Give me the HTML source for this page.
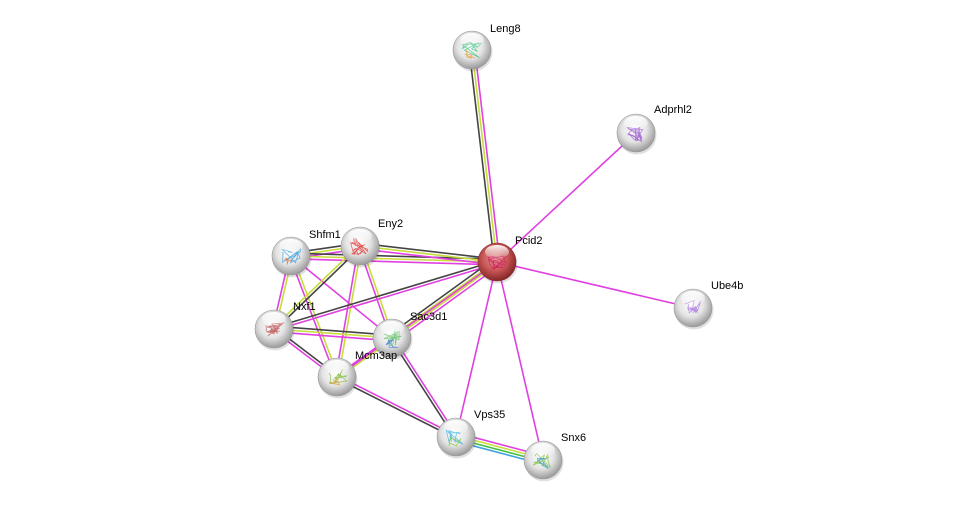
<!DOCTYPE html>
<html><head><meta charset="utf-8"><style>
html,body{margin:0;padding:0;background:#fff;width:975px;height:505px;overflow:hidden}
svg{display:block}
text{font-family:"Liberation Sans",sans-serif;font-size:11px;fill:#000}
</style></head><body>
<svg id="s" width="975" height="505" viewBox="0 0 975 505">
<defs>
<radialGradient id="g" cx="45%" cy="40%" r="60%">
<stop offset="0" stop-color="#ffffff"/><stop offset="0.55" stop-color="#e4e4e4"/><stop offset="1" stop-color="#9a9a9a"/>
</radialGradient>
<radialGradient id="r" cx="45%" cy="40%" r="60%">
<stop offset="0" stop-color="#e49a9a"/><stop offset="0.55" stop-color="#c85656"/><stop offset="1" stop-color="#842626"/>
</radialGradient>
<linearGradient id="hl" x1="0" y1="0" x2="0" y2="1">
<stop offset="0" stop-color="#fff" stop-opacity="0.95"/><stop offset="1" stop-color="#fff" stop-opacity="0.05"/>
</linearGradient>
</defs>
<g id="edges"></g><g id="nodes"></g>
</svg>
<script>
var N={Leng8:[472,50],Adprhl2:[636,133],Pcid2:[497,262],Ube4b:[693,308],Shfm1:[291,256],Eny2:[360,246],Nxf1:[274,329],Sac3d1:[392,338],Mcm3ap:[337,377],Vps35:[456,437],Snx6:[543,460]};
var K='#444',Y='#c8dc3c',P='#e040e0',G='#40c040',B='#40a0e0';
var E=[["Shfm1","Eny2",[K,Y,P]],["Shfm1","Pcid2",[K,Y,P]],["Eny2","Pcid2",[K,Y,P]],["Shfm1","Nxf1",[Y,P]],["Shfm1","Mcm3ap",[Y,P]],["Shfm1","Sac3d1",[P]],["Eny2","Nxf1",[K,Y]],["Eny2","Sac3d1",[Y,P]],["Eny2","Mcm3ap",[Y,P]],["Nxf1","Pcid2",[K,P]],["Nxf1","Sac3d1",[K,Y,P]],["Nxf1","Mcm3ap",[K,P]],["Sac3d1","Pcid2",[K,Y,Y,P]],["Sac3d1","Mcm3ap",[Y,P]],["Mcm3ap","Pcid2",[P]],["Sac3d1","Vps35",[P,K]],["Mcm3ap","Vps35",[P,K]],["Leng8","Pcid2",[P,Y,K]],["Vps35","Snx6",[P,Y,G,B]],["Pcid2","Adprhl2",[P]],["Pcid2","Ube4b",[P]],["Pcid2","Vps35",[P]],["Pcid2","Snx6",[P]]];
var ns="http://www.w3.org/2000/svg",eg=document.getElementById('edges'),ng=document.getElementById('nodes');
function el(t,a,p){var e=document.createElementNS(ns,t);for(var k in a)e.setAttribute(k,a[k]);p.appendChild(e);return e;}
E.forEach(function(e){var a=N[e[0]],b=N[e[1]],dx=b[0]-a[0],dy=b[1]-a[1],L=Math.hypot(dx,dy),nx=-dy/L,ny=dx/L,c=e[2],n=c.length;
c.forEach(function(col,i){var o=(i-(n-1)/2)*2.8;el('line',{x1:a[0]+nx*o,y1:a[1]+ny*o,x2:b[0]+nx*o,y2:b[1]+ny*o,stroke:col,'stroke-width':1.6},eg);});});
var lab={Leng8:[490,32],Adprhl2:[654,113],Pcid2:[515,244],Ube4b:[711,289],Shfm1:[309,238],Eny2:[378,227],Nxf1:[293,310],Sac3d1:[410,320],Mcm3ap:[355,359],Vps35:[474,418],Snx6:[561,441]};
var sc={Leng8:['#40c080','#e0a040'],Adprhl2:['#a060d0','#a060d0'],Pcid2:['#d02060','#d02060'],Ube4b:['#b080e0','#b080e0'],Shfm1:['#40a0e0','#e08040'],Eny2:['#e04040','#e04040'],Nxf1:['#c06060','#c06060'],Sac3d1:['#60c060','#4080e0'],Mcm3ap:['#80c040','#e0a040'],Vps35:['#40b0e0','#80d040'],Snx6:['#80c040','#40a0e0']};
function rnd(s){return function(){s=(s*9301+49297)%233280;return s/233280;};}
var seed=7;
for(var k in N){var p=N[k],red=k=='Pcid2';
el('circle',{cx:p[0]+1,cy:p[1]+2,r:19.5,fill:'#000',opacity:0.12},ng);
el('circle',{cx:p[0],cy:p[1],r:19,fill:red?'url(#r)':'url(#g)',stroke:red?'#8a3030':'#999','stroke-width':0.6},ng);
var R=rnd(seed+=13),d='M'+(p[0]-8)+' '+(p[1]-4);
for(var i=0;i<14;i++)d+=' L'+(p[0]-10+R()*20).toFixed(1)+' '+(p[1]-8+R()*16).toFixed(1);
el('path',{d:d,fill:'none',stroke:sc[k][0],'stroke-width':0.8,opacity:0.8},ng);
var d2='M'+(p[0]-4)+' '+(p[1]+2);for(var i=0;i<8;i++)d2+=' L'+(p[0]-8+R()*14).toFixed(1)+' '+(p[1]-2+R()*12).toFixed(1);
el('path',{d:d2,fill:'none',stroke:sc[k][1],'stroke-width':0.8,opacity:0.8},ng);
el('ellipse',{cx:p[0],cy:p[1]-10,rx:12,ry:7,fill:'url(#hl)'},ng);
var t=el('text',{x:lab[k][0],y:lab[k][1]},ng);t.textContent=k;}
</script>
</body></html>
